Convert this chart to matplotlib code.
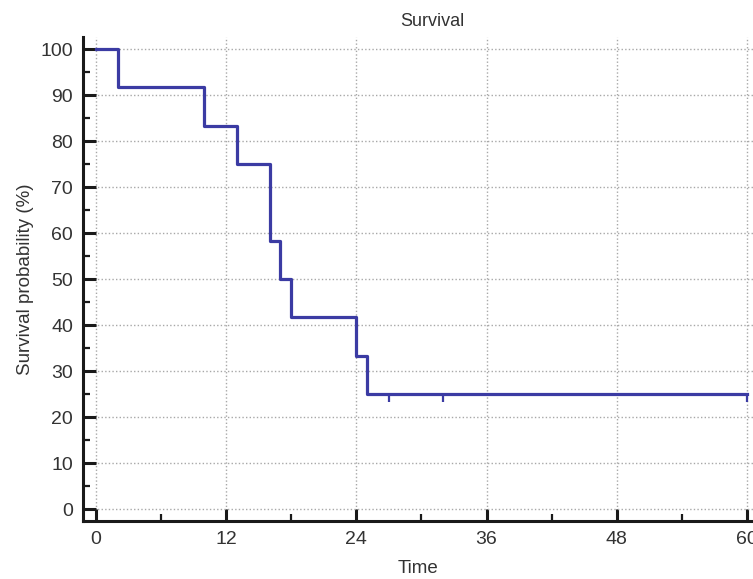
import matplotlib
matplotlib.use("Agg")
import matplotlib.pyplot as plt
from matplotlib.ticker import MultipleLocator

plt.rcParams['font.family'] = ['Liberation Sans', 'DejaVu Sans']

step_times = [0, 2, 10, 13, 16, 17, 18, 24, 25, 60]
survival = [100, 91.67, 83.33, 75.0, 58.33, 50.0, 41.67, 33.33, 25.0, 25.0]
censor_times = [27, 32, 60]
censor_surv = [25.0, 25.0, 25.0]

x_ticks = [0, 12, 24, 36, 48, 60]
y_ticks = [0, 10, 20, 30, 40, 50, 60, 70, 80, 90, 100]

line_color = '#3b3ba3'

fig = plt.figure(figsize=(7.53, 5.79), dpi=100)
ax = fig.add_axes([0.110, 0.100, 0.890, 0.836])

ax.step(step_times, survival, where='post', color=line_color, lw=2.3, zorder=3)
ax.plot(censor_times, censor_surv, linestyle='none', marker=[(0, 0), (0, -1)],
        markersize=12, markeredgewidth=1.6, color=line_color, zorder=3)

ax.set_xlim(-1.2, 60.55)
ax.set_ylim(-2.6, 102.6)
ax.set_xticks(x_ticks)
ax.set_yticks(y_ticks)
ax.xaxis.set_minor_locator(MultipleLocator(6))
ax.yaxis.set_minor_locator(MultipleLocator(5))

ax.grid(True, which='major', linestyle=(0, (1, 1.6)), color='#a8a8a8', lw=1.0)
ax.set_axisbelow(True)

for s in ['top', 'right']:
    ax.spines[s].set_visible(False)
for s in ['left', 'bottom']:
    ax.spines[s].set_linewidth(2.2)
    ax.spines[s].set_color('#1a1a1a')

ax.tick_params(which='major', direction='in', length=9, width=2.2, color='#1a1a1a',
               labelsize=14, labelcolor='#333333', pad=7)
ax.tick_params(which='minor', direction='in', length=5, width=1.6, color='#1a1a1a')

ax.set_title('Survival', fontsize=13, color='#333333', pad=8, x=0.521)
ax.set_xlabel('Time', fontsize=13.5, color='#333333', labelpad=9)
ax.set_ylabel('Survival probability (%)', fontsize=13.5, color='#333333', labelpad=5)

fig.savefig('out.png', dpi=100)
